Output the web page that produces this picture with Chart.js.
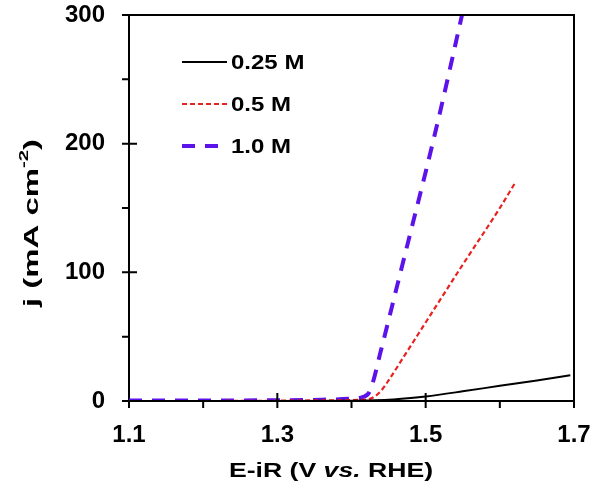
<!DOCTYPE html>
<html>
<head>
<meta charset="utf-8">
<script src="https://cdn.jsdelivr.net/npm/chart.js@4/dist/chart.umd.min.js"></script>
<style>
html,body{margin:0;padding:0;background:#fff;}
canvas{display:block;}
</style>
</head>
<body>
<canvas id="c" width="596" height="490"></canvas>
<script>
// ---- data ----
const seriesLabels = ['0.25 M', '0.5 M', '1.0 M'];
const v025 = [1.10, 1.20, 1.30, 1.40, 1.42, 1.45, 1.48, 1.50, 1.55, 1.60, 1.65, 1.695];
const j025 = [0, 0, 0, 0.2, 0.4, 1.0, 2.3, 3.5, 7.5, 11.8, 16, 20];
const v05 = [1.10, 1.20, 1.30, 1.38, 1.42, 1.43, 1.44, 1.45, 1.47, 1.50, 1.55, 1.60, 1.62];
const j05 = [0, 0, 0.2, 0.6, 1.2, 3, 8, 16, 34, 61, 106, 150, 169];
const v10 = [1.10, 1.20, 1.30, 1.36, 1.40, 1.415, 1.425, 1.44, 1.46, 1.48, 1.50, 1.52, 1.549];
const j10 = [0.3, 0.4, 0.6, 1.0, 1.8, 3, 8, 40, 86, 132, 178, 226, 300];
const xTickValues = [1.1, 1.3, 1.5, 1.7];
const xMinorTicks = [1.2, 1.4, 1.6];
const yTickValues = [0, 100, 200, 300];
const yMinorTicks = [50, 150, 250];

const colors = ['#000000', '#e8231f', '#5c12ea'];
const widths = [2, 2.2, 4];
const dashes = [[], [5, 3], [13, 10]];
const FONT = '"Liberation Sans", Arial, sans-serif';

const toPts = (xs, ys) => xs.map((x, i) => ({x: x, y: ys[i]}));
const seriesData = [toPts(v025, j025), toPts(v05, j05), toPts(v10, j10)];

function drawStretched(ctx, parts, cx, cy, targetW) {
  let w = 0;
  parts.forEach(p => { ctx.font = p[1]; w += ctx.measureText(p[0]).width; });
  const k = targetW / w;
  ctx.save();
  ctx.translate(cx, cy);
  ctx.scale(k, 1);
  let x = -w / 2;
  ctx.textAlign = 'left';
  ctx.textBaseline = 'middle';
  parts.forEach(p => { ctx.font = p[1]; ctx.fillText(p[0], x, p[2] || 0); x += ctx.measureText(p[0]).width; });
  ctx.restore();
}

const decor = {
  id: 'decor',
  afterDraw(chart) {
    const ctx = chart.ctx, a = chart.chartArea;
    const xs = chart.scales.x, ys = chart.scales.y;
    ctx.save();
    ctx.strokeStyle = '#000';
    ctx.lineWidth = 2;
    ctx.beginPath();
    ctx.moveTo(a.left - 1, a.top); ctx.lineTo(a.right, a.top); ctx.lineTo(a.right, a.bottom);
    ctx.stroke();
    // y ticks
    ctx.beginPath();
    yTickValues.forEach(v => { const p = ys.getPixelForValue(v); ctx.moveTo(a.left - 7, p); if (v > 0 && v < 300) ctx.lineTo(a.left + 8, p); else ctx.lineTo(a.left, p); });
    yMinorTicks.forEach(v => { const p = ys.getPixelForValue(v); ctx.moveTo(a.left - 7, p); ctx.lineTo(a.left, p); });
    // x ticks
    xTickValues.forEach(v => { const p = xs.getPixelForValue(v); ctx.moveTo(p, a.bottom + 7); if (v > 1.1 && v < 1.7) ctx.lineTo(p, a.bottom - 8); else ctx.lineTo(p, a.bottom); });
    xMinorTicks.forEach(v => { const p = xs.getPixelForValue(v); ctx.moveTo(p, a.bottom + 7); ctx.lineTo(p, a.bottom); });
    ctx.stroke();

    // legend
    const rowsY = [62, 104, 146];
    ctx.fillStyle = '#000';
    seriesLabels.forEach((lab, i) => {
      ctx.beginPath();
      ctx.strokeStyle = colors[i];
      ctx.lineWidth = widths[i];
      ctx.setLineDash(dashes[i]);
      ctx.moveTo(182, rowsY[i]); ctx.lineTo(227, rowsY[i]);
      ctx.stroke();
      ctx.setLineDash([]);
      ctx.save();
      ctx.translate(231, rowsY[i] + 1);
      ctx.scale(1.2, 1);
      ctx.font = 'bold 20px ' + FONT;
      ctx.textAlign = 'left';
      ctx.textBaseline = 'middle';
      ctx.fillText(lab, 0, 0);
      ctx.restore();
    });

    // x axis title with italic "vs."
    const f1 = 'bold 21px ' + FONT, f2 = 'italic bold 21px ' + FONT;
    drawStretched(ctx, [['E-iR (V ', f1], ['vs.', f2], [' RHE)', f1]], 331, 471, 204);

    // y axis title with superscript
    ctx.save();
    ctx.translate(32, 223);
    ctx.rotate(-Math.PI / 2);
    const fs = 'bold 13px ' + FONT;
    drawStretched(ctx, [['j (mA cm', f1, 0], ['-2', fs, -8], [')', f1, 0]], 0, 0, 168);
    ctx.restore();
    ctx.restore();
  }
};

const zeroPad = s => { s.paddingTop = 0; s.paddingBottom = 0; s.paddingLeft = 0; s.paddingRight = 0; };

new Chart(document.getElementById('c'), {
  type: 'line',
  data: {
    datasets: seriesData.map((d, i) => ({
      label: seriesLabels[i],
      data: d,
      borderColor: colors[i],
      borderWidth: widths[i],
      borderDash: dashes[i],
      pointRadius: 0,
      fill: false,
      cubicInterpolationMode: 'monotone'
    }))
  },
  options: {
    responsive: false,
    animation: false,
    layout: {padding: {top: 15, right: 22, left: 0, bottom: 0}},
    plugins: {legend: {display: false}, tooltip: {enabled: false}},
    scales: {
      x: {
        type: 'linear', min: 1.1, max: 1.7,
        afterBuildTicks: s => { s.ticks = xTickValues.map(v => ({value: v})); },
        afterFit: s => { s.height = 89; zeroPad(s); },
        grid: {display: false, drawTicks: false},
        border: {display: true, color: '#000', width: 2},
        ticks: {padding: 20, color: '#000', font: {family: FONT, size: 24, weight: 'bold'}, callback: v => Number(v).toFixed(1), maxRotation: 0}
      },
      y: {
        type: 'linear', min: 0, max: 300,
        afterBuildTicks: s => { s.ticks = yTickValues.map(v => ({value: v})); },
        afterFit: s => { s.width = 129; zeroPad(s); },
        grid: {display: false, drawTicks: false},
        border: {display: true, color: '#000', width: 2},
        ticks: {padding: 24, color: '#000', font: {family: FONT, size: 24, weight: 'bold'}}
      }
    }
  },
  plugins: [decor]
});
</script>
</body>
</html>
